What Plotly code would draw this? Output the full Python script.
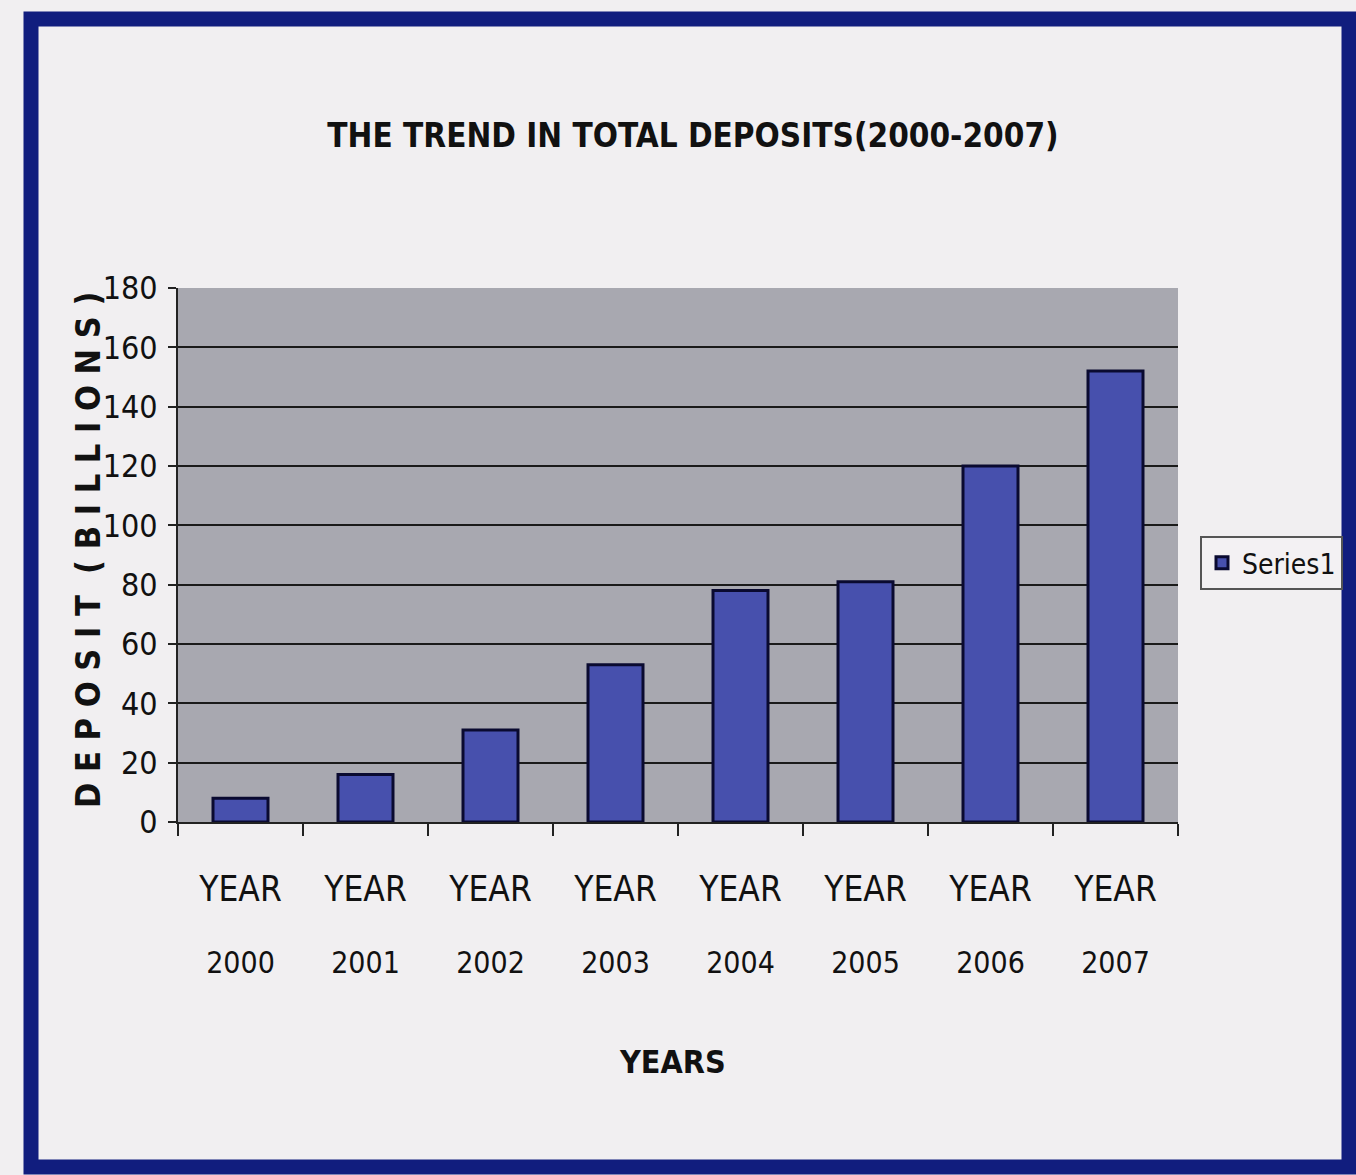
import plotly.graph_objects as go

# ---- data ----
years = ["2000", "2001", "2002", "2003", "2004", "2005", "2006", "2007"]
year_prefix = ["YEAR"] * len(years)
deposits = [8, 16, 31, 53, 78, 81, 120, 152]
y_ticks = [0, 20, 40, 60, 80, 100, 120, 140, 160, 180]
series_name = "Series1"
title_text = "THE TREND IN TOTAL DEPOSITS(2000-2007)"
y_title = "D E P O S I T  ( B I L L I O N S )"
x_title = "YEARS"

idx = list(range(len(years)))
bounds = [i - 0.5 for i in range(len(years) + 1)]

# ---- layout geometry (pixels) ----
W_PX, H_PX = 1356, 1175
L, R, T, B = 178, 1178, 288, 822
PW, PH = R - L, B - T


def px(x):
    return (x - L) / PW


def py(y):
    return (B - y) / PH


NARROW = "DejaVu Sans Condensed, Liberation Sans Narrow, sans-serif"
NAVY = "#111d7e"
BAR = "#4750ad"

fig = go.Figure()
fig.add_trace(go.Bar(
    x=idx, y=deposits, name=series_name,
    marker=dict(color=BAR, line=dict(color="#0a0a30", width=3)),
    width=0.44, showlegend=True,
))
# helper trace so the second (year) axis is drawn
fig.add_trace(go.Scatter(
    x=idx, y=deposits, xaxis="x2", mode="markers",
    marker=dict(opacity=0), showlegend=False, hoverinfo="skip",
))

fig.update_layout(
    width=W_PX, height=H_PX,
    margin=dict(l=L, r=W_PX - R, t=T, b=H_PX - B, pad=0, autoexpand=False),
    paper_bgcolor="#f1eff1",
    plot_bgcolor="#a8a8b0",
    font=dict(family=NARROW, color="#111111"),
    title=dict(
        text="<b>" + title_text + "</b>",
        x=px(693), xref="paper", xanchor="center",
        y=1 - 135 / H_PX, yref="container", yanchor="middle",
        font=dict(family=NARROW, size=33, color="#111111"),
    ),
    xaxis=dict(
        range=[-0.5, len(years) - 0.5],
        tickmode="array", tickvals=idx, ticktext=year_prefix,
        ticks="", showgrid=False, zeroline=False,
        showline=True, linecolor="#222222", linewidth=2,
        tickfont=dict(size=35, family=NARROW),
        ticklabelstandoff=35,
        minor=dict(tickmode="array", tickvals=bounds, ticks="outside",
                   ticklen=12, tickcolor="#222222", tickwidth=2, showgrid=False),
    ),
    xaxis2=dict(
        overlaying="x", matches="x", side="bottom", anchor="y",
        tickmode="array", tickvals=idx, ticktext=years,
        ticks="", showgrid=False, zeroline=False, showline=False,
        tickfont=dict(size=30, family=NARROW),
        ticklabelstandoff=120,
    ),
    yaxis=dict(
        range=[0, 180], tickmode="array", tickvals=y_ticks,
        showgrid=True, gridcolor="#1a1a1a", gridwidth=2,
        zeroline=False, showline=True, linecolor="#222222", linewidth=2,
        ticks="outside", ticklen=8, tickcolor="#222222", tickwidth=2,
        tickfont=dict(size=32, family=NARROW),
        ticklabelstandoff=4,
    ),
    legend=dict(
        x=px(1200), y=py(536), xanchor="left", yanchor="top",
        bgcolor="#f3f1f3", bordercolor="#555555", borderwidth=2,
        font=dict(size=28, family=NARROW),
        itemwidth=30,
    ),
    annotations=[
        dict(
            text="<b>" + x_title + "</b>", x=px(672), y=py(1062),
            xref="paper", yref="paper", showarrow=False,
            font=dict(size=32, family=NARROW), xanchor="center", yanchor="middle",
        ),
        dict(
            text="<b>" + y_title + "</b>", x=px(88), y=py(550),
            xref="paper", yref="paper", showarrow=False, textangle=-90,
            font=dict(size=34, family=NARROW), xanchor="center", yanchor="middle",
        ),
    ],
    shapes=[dict(
        type="rect", xref="paper", yref="paper",
        x0=px(31), x1=px(1349), y0=py(19), y1=py(1167),
        line=dict(color=NAVY, width=15), layer="below",
    )],
)

fig.write_html("out.html")
